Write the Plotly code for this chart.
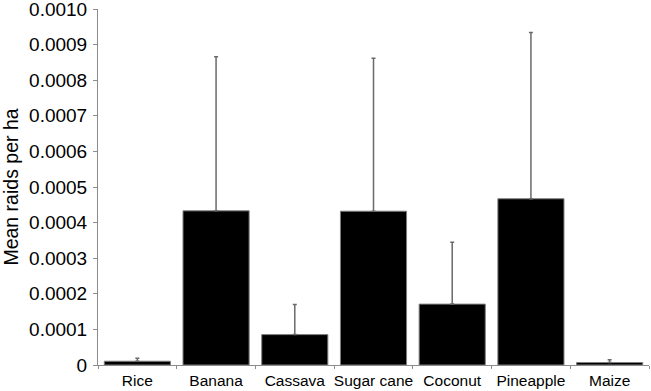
import plotly.graph_objects as go

categories = ["Rice", "Banana", "Cassava", "Sugar cane", "Coconut", "Pineapple", "Maize"]
mean_raids = [0.0000106, 0.000433, 0.0000854, 0.000432, 0.000171, 0.000467, 0.0000070]
error_up = [0.0000085, 0.000433, 0.0000846, 0.000430, 0.000174, 0.000467, 0.0000076]

y_tickvals = [0, 0.0001, 0.0002, 0.0003, 0.0004, 0.0005, 0.0006, 0.0007, 0.0008, 0.0009, 0.0010]
y_ticktext = ["0", "0.0001", "0.0002", "0.0003", "0.0004", "0.0005", "0.0006", "0.0007", "0.0008", "0.0009", "0.0010"]

axis_gray = "#8c8c8c"

fig = go.Figure(
    go.Bar(
        x=categories,
        y=mean_raids,
        marker=dict(color="black", line=dict(color="#7f7f7f", width=1)),
        error_y=dict(
            type="data",
            symmetric=False,
            array=error_up,
            arrayminus=[0] * len(error_up),
            color="#6a6a6a",
            thickness=1.5,
            width=2,
        ),
    )
)

fig.update_layout(
    width=651,
    height=391,
    margin=dict(l=98, r=2, t=9, b=26),
    paper_bgcolor="white",
    plot_bgcolor="white",
    bargap=0.16,
    showlegend=False,
    font=dict(family="Liberation Sans, Arial, sans-serif", color="black"),
)

fig.update_xaxes(
    range=[-0.5, 6.5],
    automargin=False,
    tickangle=0,
    showline=True,
    linecolor=axis_gray,
    linewidth=1,
    ticks="outside",
    tickson="boundaries",
    ticklen=3,
    tickcolor=axis_gray,
    showgrid=False,
    tickfont=dict(size=15.5, color="black"),
    ticklabelstandoff=1,
    ticklabeloverflow="allow",
)

fig.update_yaxes(
    range=[0, 0.001],
    automargin=False,
    tickvals=y_tickvals,
    ticktext=y_ticktext,
    showline=True,
    linecolor=axis_gray,
    linewidth=1,
    ticks="outside",
    ticklen=4,
    tickcolor=axis_gray,
    showgrid=False,
    zeroline=False,
    tickfont=dict(size=19, color="black"),
    ticklabelstandoff=2,
    ticklabeloverflow="allow",
    title=dict(text="Mean raids per ha", font=dict(size=19.5, color="black"), standoff=8),
)

fig.write_html(
    "out.html",
    config={"displayModeBar": False},
    post_script="document.body.style.margin='0';document.body.style.overflow='hidden';",
)
